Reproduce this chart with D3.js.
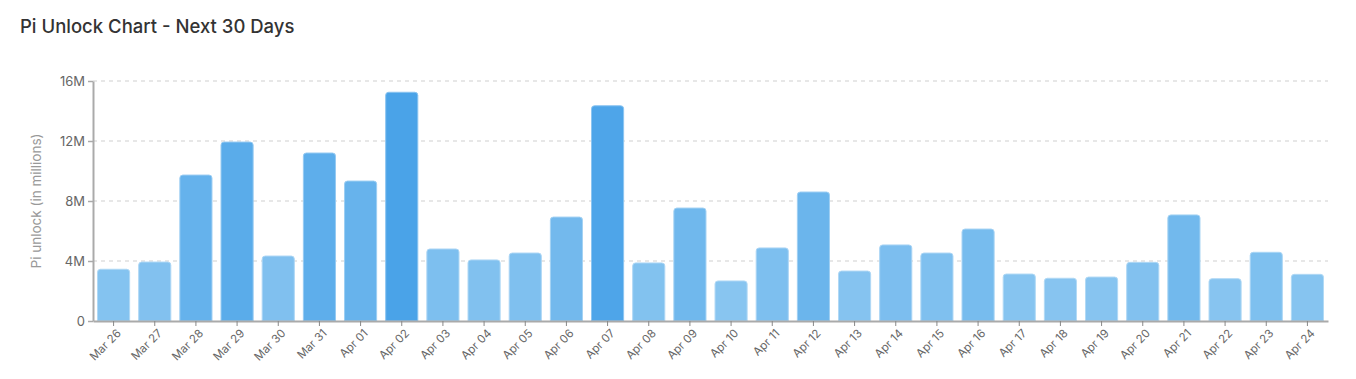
<!DOCTYPE html>
<html>
<head>
<meta charset="utf-8">
<script src="https://cdn.jsdelivr.net/npm/d3@7"></script>
<style>
  body { margin: 0; background: #fff; font-family: "Inter", "Roboto", sans-serif; }
  svg text { font-family: "Inter", "Roboto", sans-serif; }
</style>
</head>
<body>
<svg id="chart"></svg>
<script>
// Chart data (values in millions of Pi)
const dates = ["Mar 26", "Mar 27", "Mar 28", "Mar 29", "Mar 30", "Mar 31", "Apr 01", "Apr 02",
  "Apr 03", "Apr 04", "Apr 05", "Apr 06", "Apr 07", "Apr 08", "Apr 09", "Apr 10", "Apr 11",
  "Apr 12", "Apr 13", "Apr 14", "Apr 15", "Apr 16", "Apr 17", "Apr 18", "Apr 19", "Apr 20",
  "Apr 21", "Apr 22", "Apr 23", "Apr 24"];
const unlocks = [3.45, 3.93, 9.73, 11.93, 4.33, 11.2, 9.33, 15.25, 4.8, 4.07, 4.53, 6.93, 14.35,
  3.87, 7.53, 2.67, 4.87, 8.6, 3.33, 5.07, 4.53, 6.13, 3.13, 2.85, 2.93, 3.91, 7.07, 2.82, 4.58, 3.11];
const yTicks = [0, 4, 8, 12, 16];

const width = 1356, height = 379;
const margin = { top: 81, right: 28, bottom: 58, left: 93 };
const innerW = width - margin.left - margin.right;
const innerH = height - margin.top - margin.bottom;

const svg = d3.select("svg#chart")
  .attr("width", width)
  .attr("height", height);

svg.append("text")
  .attr("x", 20)
  .attr("y", 33)
  .attr("font-size", 18.5)
  .attr("font-weight", 500)
  .attr("fill", "#333")
  .text("Pi Unlock Chart - Next 30 Days");

const g = svg.append("g")
  .attr("transform", `translate(${margin.left},${margin.top})`);

const xScale = d3.scaleBand().domain(dates).range([0, innerW]).paddingInner(0.22).paddingOuter(0.11);
const yScale = d3.scaleLinear().domain([0, 16]).range([innerH, 0]);
const colorScale = d3.scaleLinear()
  .domain([0, d3.max(unlocks)])
  .range(["rgb(149,204,242)", "rgb(74,163,232)"]);

// grid lines
g.append("g")
  .selectAll("line")
  .data(yTicks.filter(d => d > 0))
  .join("line")
  .attr("x1", 0)
  .attr("x2", innerW)
  .attr("y1", d => yScale(d))
  .attr("y2", d => yScale(d))
  .attr("stroke", "#e0e0e0")
  .attr("stroke-width", 1.5)
  .attr("stroke-dasharray", "4,4");

// bars with rounded top corners
const r = 3;
g.append("g")
  .selectAll("path")
  .data(unlocks)
  .join("path")
  .attr("d", (d, i) => {
    const x0 = xScale(dates[i]), w = xScale.bandwidth();
    const y0 = yScale(d), y1 = yScale(0);
    return `M${x0},${y1}V${y0 + r}Q${x0},${y0} ${x0 + r},${y0}H${x0 + w - r}Q${x0 + w},${y0} ${x0 + w},${y0 + r}V${y1}Z`;
  })
  .attr("fill", d => colorScale(d))
  .attr("stroke", d => d3.interpolateRgb(colorScale(d), "#fff")(0.35))
  .attr("stroke-width", 1);

// axes
const xAxis = g.append("g")
  .attr("transform", `translate(0,${innerH})`)
  .call(d3.axisBottom(xScale).tickSize(5).tickSizeOuter(0));
xAxis.select(".domain").attr("stroke", "#aaa").attr("stroke-width", 2);
xAxis.selectAll(".tick line").attr("stroke", "#888");
xAxis.selectAll("text")
  .attr("fill", "#666")
  .attr("font-size", 11.5)
  .attr("text-anchor", "end")
  .attr("dx", "-0.3em")
  .attr("dy", "0.6em")
  .attr("transform", "rotate(-45)");

const yAxis = g.append("g")
  .call(d3.axisLeft(yScale).tickValues(yTicks).tickSize(5).tickSizeOuter(0)
    .tickFormat(d => d === 0 ? "0" : d + "M"));
yAxis.select(".domain").attr("stroke", "#aaa").attr("stroke-width", 2);
yAxis.selectAll(".tick line").attr("stroke", "#aaa").attr("stroke-width", 1.5);
yAxis.selectAll("text").attr("fill", "#666").attr("font-size", 13);

svg.append("text")
  .attr("transform", `translate(41,${margin.top + innerH / 2}) rotate(-90)`)
  .attr("text-anchor", "middle")
  .attr("font-size", 13.5)
  .attr("fill", "#999")
  .text("Pi unlock (in millions)");
</script>
</body>
</html>
